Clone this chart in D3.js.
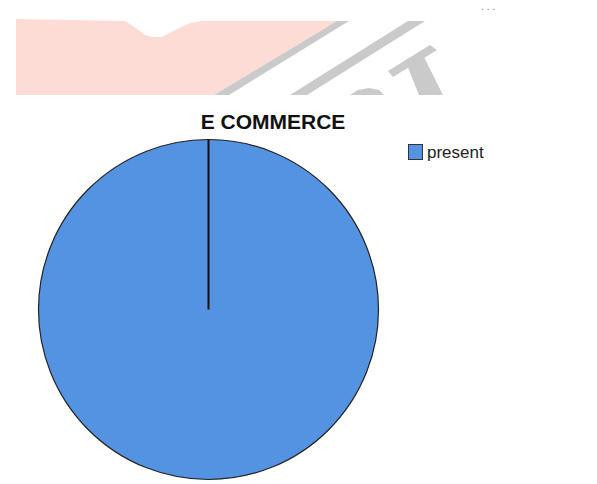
<!DOCTYPE html>
<html>
<head>
<meta charset="utf-8">
<script src="https://cdn.jsdelivr.net/npm/d3@7"></script>
<style>
  html, body { margin: 0; padding: 0; background: #ffffff; }
  svg { display: block; }
</style>
</head>
<body>
<svg id="chart" width="597" height="484"></svg>
<script>
// Chart data
const chartTitle = "E COMMERCE";
const categories = ["present"];
const values = [100];
const colors = ["#5492e2"];

const width = 597, height = 484;
const svg = d3.select("#chart");

// Faded header artwork behind the page top
const banner = svg.append("g").attr("class", "banner");
const line = d3.line();
banner.append("path")
  .attr("d", line([[16,19],[125,21],[133,26],[145,35],[153,37],[162,37],[175,30],[190,23],[202,21],[337,21],[214,95],[16,95]]) + "Z")
  .attr("fill", "#fddcd5");
banner.append("path")
  .attr("d", line([[337,21],[349,21],[229,95],[214,95]]) + "Z")
  .attr("fill", "#cacaca");
banner.append("path")
  .attr("d", line([[408,21],[425,21],[307,95],[290,95]]) + "Z")
  .attr("fill", "#cacaca");
banner.append("path")
  .attr("d", line([[430,45],[437,50],[393,77],[388,71]]) + "Z")
  .attr("fill", "#cacaca");
banner.append("path")
  .attr("d", line([[405,60],[422,53],[443,95],[419,95]]) + "Z")
  .attr("fill", "#cacaca");
banner.append("path")
  .attr("d", line([[350,95],[358,90],[369,88],[379,90],[384,95]]) + "Z")
  .attr("fill", "#cacaca");

svg.append("text")
  .attr("x", 481).attr("y", 10)
  .attr("font-family", "Liberation Sans, Arial, sans-serif")
  .attr("font-size", 10)
  .attr("letter-spacing", 3)
  .attr("fill", "#777")
  .text("...");

// Title
svg.append("text")
  .attr("x", 273).attr("y", 129)
  .attr("text-anchor", "middle")
  .attr("font-family", "Liberation Sans, Arial, sans-serif")
  .attr("font-weight", "bold")
  .attr("font-size", 21)
  .attr("fill", "#111")
  .text(chartTitle);

// Pie
const cx = 208.5, cy = 309.5, radius = 170;
const color = d3.scaleOrdinal().domain(categories).range(colors);
const pie = d3.pie().sort(null).value(d => d.value);
const arcs = pie(categories.map((c, i) => ({ name: c, value: values[i] })));
const arc = d3.arc().innerRadius(0).outerRadius(radius);

const pieG = svg.append("g").attr("transform", `translate(${cx},${cy})`);
pieG.selectAll("path.slice")
  .data(arcs)
  .join("path")
  .attr("class", "slice")
  .attr("d", arc)
  .attr("fill", d => color(d.data.name))
  .attr("stroke", "#222")
  .attr("stroke-width", 1.2);

// Slice boundary edges (radial lines)
pieG.selectAll("line.edge")
  .data(arcs)
  .join("line")
  .attr("class", "edge")
  .attr("x1", 0).attr("y1", 0)
  .attr("x2", d => d3.pointRadial(d.startAngle, radius)[0])
  .attr("y2", d => d3.pointRadial(d.startAngle, radius)[1])
  .attr("stroke", "#111")
  .attr("stroke-width", 2);

// Legend
const legend = svg.append("g").attr("transform", "translate(408,144)");
const items = legend.selectAll("g.item")
  .data(categories)
  .join("g")
  .attr("class", "item")
  .attr("transform", (d, i) => `translate(0,${i * 22})`);
items.append("rect")
  .attr("x", 0.5).attr("y", 0.5)
  .attr("width", 14).attr("height", 15)
  .attr("fill", d => color(d))
  .attr("stroke", "#333")
  .attr("stroke-width", 1);
items.append("text")
  .attr("x", 19).attr("y", 14)
  .attr("font-family", "Liberation Sans, Arial, sans-serif")
  .attr("font-size", 17)
  .attr("fill", "#222")
  .text(d => d);
</script>
</body>
</html>
